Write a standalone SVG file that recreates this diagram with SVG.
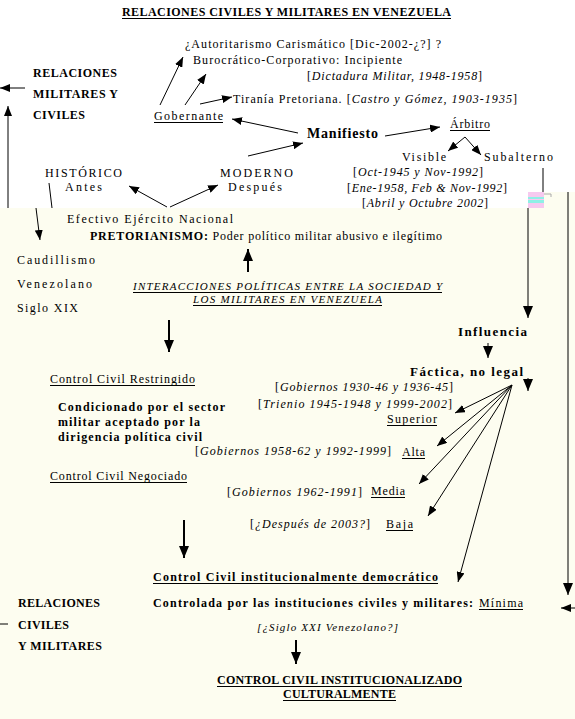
<svg xmlns="http://www.w3.org/2000/svg" width="575" height="719" viewBox="0 0 575 719">
<style>
text{font-family:"Liberation Serif","DejaVu Serif",serif;font-size:12px;fill:#000}
.b{font-weight:bold}
.i{font-style:italic}
.s11{font-size:11px}
.s13{font-size:13px}
.s14{font-size:14px}
.ul{stroke:#000;stroke-width:1}
.ln{stroke:#000;stroke-width:1;fill:none}
.th{stroke:#000;stroke-width:2;fill:none}
</style>
<defs>
<marker id="ah" viewBox="0 0 10 8" refX="10" refY="4" markerWidth="10" markerHeight="8" orient="auto" markerUnits="userSpaceOnUse"><path d="M0,0 L10,4 L0,8 z" fill="#000"/></marker>
<marker id="ahb" viewBox="0 0 12 10" refX="12" refY="5" markerWidth="12" markerHeight="10" orient="auto" markerUnits="userSpaceOnUse"><path d="M0,0 L12,5 L0,10 z" fill="#000"/></marker>
</defs>
<rect x="0" y="0" width="575" height="719" fill="#ffffff"/>
<rect x="0" y="208" width="575" height="511" fill="#fdfdf0"/>
<rect x="544" y="192" width="31" height="16" fill="#fdfdf0"/>
<g id="artifact">
<rect x="528" y="192" width="16" height="16" fill="#f6c9ef"/>
<rect x="528" y="197" width="16" height="2" fill="#8ef0e6"/>
<rect x="528" y="200" width="16" height="3" fill="#8ef0e6"/>
<path d="M544,194 H551 V197" stroke="#aaa" fill="none"/>
</g>

<g id="title"><text class="b" x="122" y="16" textLength="329">RELACIONES CIVILES Y MILITARES EN VENEZUELA</text><line class="ul" x1="122" y1="18.5" x2="451" y2="18.5"/></g>

<g id="autoritarismo"><text x="185" y="48" textLength="256">¿Autoritarismo Carismático [Dic-2002-¿?] ?</text></g>
<g id="burocratico">
<text x="193" y="64" textLength="209">Burocrático-Corporativo: Incipiente</text>
<text x="307" y="80" textLength="175">[<tspan class="i">Dictadura Militar, 1948-1958</tspan>]</text>
</g>
<g id="tirania"><text x="233" y="103" textLength="284">Tiranía Pretoriana. [<tspan class="i">Castro y Gómez, 1903-1935</tspan>]</text></g>

<g id="rel-top">
<text class="b" x="33" y="77" textLength="84">RELACIONES</text>
<text class="b" x="33" y="98" textLength="85">MILITARES Y</text>
<text class="b" x="33" y="119" textLength="52">CIVILES</text>
</g>

<g id="gobernante"><text x="154" y="120" textLength="69">Gobernante</text><line class="ul" x1="154" y1="122.5" x2="223" y2="122.5"/></g>
<g id="manifiesto"><text class="b s14" x="307" y="138" textLength="71">Manifiesto</text></g>
<g id="arbitro"><text x="450" y="128" textLength="40">Árbitro</text><line class="ul" x1="450" y1="130.5" x2="490" y2="130.5"/></g>
<g id="visible">
<text x="402" y="161" textLength="44">Visible</text>
<text x="353" y="176" textLength="130">[<tspan class="i">Oct-1945 y Nov-1992</tspan>]</text>
<text x="347" y="192" textLength="160">[<tspan class="i">Ene-1958, Feb &amp; Nov-1992</tspan>]</text>
<text x="362" y="207" textLength="126">[<tspan class="i">Abril y Octubre 2002</tspan>]</text>
</g>
<g id="subalterno"><text x="484" y="161" textLength="69">Subalterno</text></g>

<g id="historico">
<text x="45" y="177" textLength="77">HISTÓRICO</text>
<text x="65" y="191" textLength="37">Antes</text>
</g>
<g id="moderno">
<text x="220" y="177" textLength="73">MODERNO</text>
<text x="228" y="191" textLength="54">Después</text>
</g>

<g id="efectivo"><text x="67" y="223" textLength="166">Efectivo Ejército Nacional</text></g>
<g id="pretorianismo"><text x="90" y="240" textLength="352"><tspan class="b">PRETORIANISMO:</tspan> Poder político militar abusivo e ilegítimo</text></g>

<g id="caudillismo">
<text x="17" y="264" textLength="78">Caudillismo</text>
<text x="17" y="288" textLength="75">Venezolano</text>
<text x="17" y="312" textLength="61">Siglo XIX</text>
</g>

<g id="interacciones">
<text class="i s11" x="133" y="290" textLength="309">INTERACCIONES POLÍTICAS ENTRE LA SOCIEDAD Y</text>
<line class="ul" x1="133" y1="292.5" x2="442" y2="292.5"/>
<text class="i s11" x="193" y="303" textLength="189">LOS MILITARES EN VENEZUELA</text>
<line class="ul" x1="193" y1="305.5" x2="382" y2="305.5"/>
</g>

<g id="influencia"><text class="b s13" x="458" y="336" textLength="69">Influencia</text></g>
<g id="factica"><text class="b s13" x="410" y="376" textLength="113">Fáctica, no legal</text></g>

<g id="superior">
<text x="275" y="391" textLength="178">[<tspan class="i">Gobiernos 1930-46 y 1936-45</tspan>]</text>
<text x="258" y="408" textLength="194">[<tspan class="i">Trienio 1945-1948 y 1999-2002</tspan>]</text>
<text x="387" y="423" textLength="50">Superior</text>
<line class="ul" x1="387" y1="425.5" x2="437" y2="425.5"/>
</g>

<g id="restringido">
<text x="50" y="383" textLength="145">Control Civil Restringido</text>
<line class="ul" x1="50" y1="385.5" x2="195" y2="385.5"/>
<text class="b" x="58" y="411" textLength="167">Condicionado por el sector</text>
<text class="b" x="58" y="426" textLength="142">militar aceptado por la</text>
<text class="b" x="58" y="441" textLength="144">dirigencia política civil</text>
</g>

<g id="alta">
<text x="195" y="455" textLength="196">[<tspan class="i">Gobiernos 1958-62 y 1992-1999</tspan>]</text>
<text x="402" y="456" textLength="23">Alta</text>
<line class="ul" x1="402" y1="458.5" x2="425" y2="458.5"/>
</g>

<g id="negociado"><text x="50" y="480" textLength="137">Control Civil Negociado</text><line class="ul" x1="50" y1="482.5" x2="187" y2="482.5"/></g>

<g id="media">
<text x="227" y="496" textLength="135">[<tspan class="i">Gobiernos 1962-1991</tspan>]</text>
<text x="371" y="495" textLength="34">Media</text>
<line class="ul" x1="371" y1="497.5" x2="405" y2="497.5"/>
</g>

<g id="baja">
<text x="250" y="528" textLength="120">[<tspan class="i">¿Después de 2003?</tspan>]</text>
<text x="386" y="528" textLength="27">Baja</text>
<line class="ul" x1="386" y1="530.5" x2="413" y2="530.5"/>
</g>

<g id="democratico">
<text class="b" x="153" y="581" textLength="285">Control Civil institucionalmente democrático</text>
<line class="ul" x1="153" y1="583.5" x2="438" y2="583.5"/>
<text class="b" x="153" y="607" textLength="320">Controlada por las instituciones civiles y militares:</text>
<text x="479" y="607" textLength="44">Mínima</text>
<line class="ul" x1="479" y1="609.5" x2="523" y2="609.5"/>
<text class="i s11" x="257" y="631" textLength="141">[¿Siglo XXI Venezolano?]</text>
</g>

<g id="rel-bottom">
<text class="b" x="18" y="607" textLength="82">RELACIONES</text>
<text class="b" x="18" y="629" textLength="51">CIVILES</text>
<text class="b" x="18" y="650" textLength="84">Y MILITARES</text>
</g>

<g id="culturalmente">
<text class="b" x="217" y="684" textLength="245">CONTROL CIVIL INSTITUCIONALIZADO</text>
<line class="ul" x1="217" y1="686.5" x2="462" y2="686.5"/>
<text class="b" x="283" y="698" textLength="113">CULTURALMENTE</text>
<line class="ul" x1="283" y1="700.5" x2="396" y2="700.5"/>
</g>

<g id="connectors">
<line class="ln" x1="160" y1="105" x2="183" y2="57" marker-end="url(#ah)"/>
<line class="ln" x1="185" y1="105" x2="206" y2="74" marker-end="url(#ah)"/>
<line class="ln" x1="200" y1="104" x2="232" y2="97" marker-end="url(#ah)"/>
<line class="ln" x1="298" y1="133" x2="232" y2="119" marker-end="url(#ah)"/>
<line class="ln" x1="248" y1="156" x2="303" y2="143" marker-end="url(#ah)"/>
<line class="ln" x1="385" y1="136" x2="440" y2="127" marker-end="url(#ah)"/>
<line class="ln" x1="465" y1="137" x2="448" y2="151" marker-end="url(#ah)"/>
<line class="ln" x1="465" y1="137" x2="481" y2="155" marker-end="url(#ah)"/>
<line class="ln" x1="25" y1="88" x2="0" y2="88" marker-end="url(#ah)"/>
<line class="ln" x1="8" y1="208" x2="8" y2="106" marker-end="url(#ah)"/>
<line class="ln" x1="49" y1="183" x2="52" y2="208"/>
<line class="ln" x1="36" y1="208" x2="40" y2="240" marker-end="url(#ah)"/>
<line class="ln" x1="167" y1="207" x2="129" y2="186" marker-end="url(#ah)"/>
<line class="ln" x1="170" y1="207" x2="218" y2="185" marker-end="url(#ah)"/>
<line class="ln" x1="543" y1="168" x2="543" y2="192"/>
<line class="ln" x1="528" y1="208" x2="528" y2="318" marker-end="url(#ahb)"/>
<line class="ln" x1="568" y1="192" x2="568" y2="595" marker-end="url(#ahb)"/>
<line class="ln" x1="575" y1="608" x2="561" y2="608" marker-end="url(#ah)"/>
<line class="ln" x1="0" y1="624" x2="8" y2="624"/>
<line class="th" x1="248" y1="272" x2="248" y2="249" marker-end="url(#ahb)"/>
<line class="th" x1="169" y1="320" x2="169" y2="352" marker-end="url(#ahb)"/>
<line class="ln" x1="488" y1="343" x2="488" y2="358" marker-end="url(#ahb)"/>
<line class="ln" x1="528" y1="378" x2="528" y2="391" marker-end="url(#ahb)"/>
<line class="ln" x1="512" y1="385" x2="455" y2="413" marker-end="url(#ah)"/>
<line class="ln" x1="512" y1="385" x2="437" y2="446" marker-end="url(#ah)"/>
<line class="ln" x1="512" y1="385" x2="419" y2="484" marker-end="url(#ah)"/>
<line class="ln" x1="512" y1="385" x2="428" y2="516" marker-end="url(#ah)"/>
<line class="ln" x1="512" y1="385" x2="458" y2="582" marker-end="url(#ah)"/>
<line class="th" x1="184" y1="520" x2="184" y2="558" marker-end="url(#ahb)"/>
<line class="th" x1="296" y1="640" x2="296" y2="664" marker-end="url(#ahb)"/>
</g>
</svg>
